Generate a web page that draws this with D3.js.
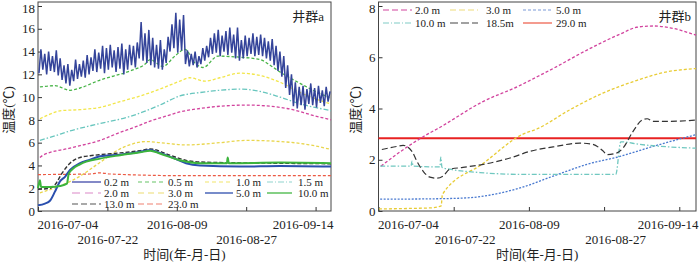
<!DOCTYPE html>
<html lang="zh">
<head>
<meta charset="utf-8">
<title>温度</title>
<script src="https://cdn.jsdelivr.net/npm/d3@7"></script>
<style>
body{margin:0;background:#fff}
svg{display:block}
text{font-family:"Liberation Serif","Times New Roman","Noto Sans CJK SC",serif;fill:#222}
</style>
</head>
<body>
<script>
// dates are given as day offsets from 2016-07-04
const tickDates = ["2016-07-04","2016-07-22","2016-08-09","2016-08-27","2016-09-14"]

// 井群a : 0.2 m daily high / low
const a02hi = [14.2,13.8,14.0,13.6,14.1,13.4, 12.8,12.9,12.4,13.3,12.9, 13.2,13.7,13.5,14.2,
  13.9,14.5,14.3,14.6,14.1,14.4, 14.7,14.2,14.6,14.5,14.8, 16.6,15.6,15.9,15.2, 14.6,15.0,14.2,15.3,
  16.4,17.4,16.8,17.2, 14.1,13.8,14.0,13.6,14.3,14.5,15.2, 15.6,15.9,15.4,15.8,16.1,15.5,16.1,
  15.0,15.4,15.2, 15.6,15.3,15.5, 15.2,14.9,15.1, 14.5,14.0,13.6, 12.8,12.0,
  11.3,10.9,11.0,10.7,11.2, 10.8,11.0,10.6,10.9,10.5]
const a02lo = [12.1,12.4,12.0,12.3,12.2,11.9, 11.5,11.2,11.0,11.4,11.6, 11.8,11.7,12.0,12.3,
  12.2,12.5,12.1,12.4,12.6,12.2, 12.5,12.0,12.4,12.8,12.6, 13.4,13.2,13.0,12.8, 12.6,12.5,12.4,13.0,
  14.0,14.3,13.9,14.1, 12.9,12.7,12.8,12.6,12.9,13.2,13.5, 13.8,13.9,13.6,14.0,13.7,13.9,13.4,
  13.2,13.4,13.6, 13.8,13.6,13.7, 13.6,13.4,13.2, 12.8,12.3,11.8, 10.8,10.2,
  9.2,9.0,9.3,8.9,9.4, 9.3,9.1,9.5,9.2,9.6]
const a05 = [[0.5,10.9],[4.4,11.0],[8.3,10.6],[10.9,10.8],[16.1,11.5],[23.9,12.3],[27.8,12.9],[29.1,13.3],
  [32.4,12.7],[35.5,13.6],[38.1,14.2],[40.7,13.0],[42.8,12.6],[46.7,13.6],[52.4,13.5],[57.6,13.3],
  [60.2,12.8],[62.8,12.2],[68.0,11.2],[73.2,10.3],[76,9.9]]
const a10 = [[0.5,8.1],[3.1,8.5],[5.7,8.8],[10.9,8.9],[16.1,9.1],[21.3,9.6],[26.5,10.1],[31.6,10.7],
  [36.8,11.4],[39.4,11.7],[43.3,11.4],[47.2,11.7],[52.4,12.1],[57.6,11.9],[62.8,11.3],[68.0,10.4],[73.2,9.7],[76,9.4]]
const a15 = [[0.5,6.2],[4.4,6.6],[8.0,7.0],[15.0,7.6],[23.9,8.3],[31.6,9.3],[36.8,10.1],[42.0,10.4],
  [47.2,10.6],[52.4,10.7],[57.6,10.5],[62.8,10.0],[68.0,9.4],[73.2,9.0],[76,8.8]]
const a20 = [[0.5,4.7],[1.3,4.9],[8.0,5.5],[16.9,6.3],[20.5,6.8],[25.4,7.4],[29.1,7.9],[32.9,8.3],
  [36.8,8.7],[42.0,9.0],[54.2,9.3],[64.6,9.0],[71.3,8.4],[76,8.0]]
const a30 = [[0.5,1.6],[5.7,2.2],[10.6,3.0],[15.8,4.2],[21.0,5.4],[24.6,5.9],[27.8,6.1],[31.6,6.0],
  [38.4,5.8],[47.2,6.0],[54.2,6.2],[62.8,6.1],[70.6,5.8],[76,5.4]]
const a50 = [[0,0.5],[1.8,0.65],[3.1,0.9],[4.4,1.7],[5.7,2.6],[7.0,3.0],[8.3,3.6],[10.9,4.2],[13.5,4.5],
  [16.1,4.8],[21.3,4.95],[26.5,5.2],[29.1,5.35],[31.6,5.1],[35.5,4.6],[38.4,4.2],[42.0,4.0],[52.4,3.9],[62.8,3.95],[76,3.9]]
const a100 = [[0,2.0],[0.5,2.7],[0.8,2.1],[3.1,2.1],[5.7,2.2],[7.5,2.4],[8.0,3.3],[10.9,4.1],[16.1,4.6],
  [21.3,4.9],[26.5,5.15],[29.1,5.3],[31.6,5.05],[36.8,4.45],[42.0,4.2],[49.0,4.2],[49.2,4.7],[49.5,4.2],[62.8,4.25],[76,4.2]]
const a130 = [[0,1.9],[3.1,2.0],[4.4,2.3],[6.2,3.3],[8.3,4.2],[10.9,4.7],[13.5,4.85],[16.1,4.95],[21.3,5.1],
  [26.5,5.3],[29.1,5.45],[34.2,4.9],[38.4,4.45],[42.0,4.3],[60,4.2],[76,4.15]]
const a230 = [[0,3.2],[13.5,3.25],[16.1,3.35],[18.7,3.25],[38.4,3.1],[76,3.1]]

// 井群b
const b20 = [[0.6,1.75],[5.1,2.3],[12.3,3.05],[14.0,3.2],[25.0,4.27],[33.9,4.9],[36.3,5.1],[41.8,5.56],
  [49.9,6.28],[57.8,6.9],[62.1,7.18],[65.7,7.22],[69.8,7.15],[76,6.86]]
const b30 = [[0.1,0.08],[7.5,0.1],[12.3,0.12],[15.0,0.2],[15.3,0.65],[25.0,1.85],[34.6,3.0],[37.9,3.2],
  [45.8,3.95],[53.7,4.6],[61.9,5.1],[68.1,5.4],[76,5.56]]
const b50 = [[0.4,0.46],[14.7,0.48],[21.9,0.52],[29.1,0.7],[33.9,0.9],[41.8,1.36],[49.9,1.82],[57.8,2.13],[65.7,2.52],[76,2.98]]
const b100 = [[0.4,1.75],[7.8,1.75],[8.0,1.95],[8.3,1.75],[14.7,1.72],[14.9,2.1],[15.2,1.7],[17.1,1.63],
  [24.3,1.5],[29.1,1.45],[33.9,1.43],[56.8,1.43],[58.0,2.7],[62.5,2.6],[76,2.45]]
const b185 = [[0.8,2.4],[4.4,2.52],[5.9,2.56],[8.0,2.33],[9.2,1.94],[10.7,1.55],[12.3,1.32],[14.0,1.28],
  [15.4,1.36],[17.1,1.63],[20.2,1.7],[25.0,1.82],[31.5,2.07],[36.3,2.33],[41.8,2.5],[48.2,2.65],[51.3,2.6],
  [53.7,2.35],[54.7,2.2],[57.1,2.27],[58.5,2.45],[60.9,3.1],[63.1,3.55],[64.3,3.6],[65.7,3.5],[69.8,3.5],[76,3.55]]
const b290 = [[0,2.84],[76,2.84]]

const t0 = new Date(2016,6,4)
const day = d => new Date(t0.getTime() + d*864e5)
const parse = d3.timeParse("%Y-%m-%d")
const fmt = d3.timeFormat("%Y-%m-%d")

// 0.2 m: low in the early morning, high in the afternoon
let a02 = []
a02hi.forEach((h,i)=>{ a02.push([i+0.25, a02lo[i]]); a02.push([i+0.75, h]) })

const svg = d3.select("body").append("svg").attr("width",700).attr("height",263)

function panel(x0, x1, yMax, lowShift, name, nameX, titleX){
    const g = svg.append("g")
    const x = d3.scaleTime().domain([t0, day(76)]).range([x0, x1])
    const y = d3.scaleLinear().domain([0, yMax]).range([211, 6])

    const xa = g.append("g").attr("transform","translate(0,211)")
        .call(d3.axisBottom(x).tickValues(tickDates.map(parse)).tickFormat(fmt)
              .tickSizeInner(-4).tickSizeOuter(0).tickPadding(9))
    xa.select(".domain").remove()
    xa.selectAll("text").attr("font-size","13px").attr("font-family",null)
        .attr("y",(d,i)=> i%2 ? 24 : 9)
        .attr("dx",(d,i)=> i%2 ? lowShift : 0)
        .attr("text-anchor",(d,i)=> i==0 ? "start" : (i==4 ? "end" : "middle"))
        .attr("x",(d,i)=> i==0 ? x0-1-x(d) : (i==4 ? x1+2-x(d) : 0))

    const ya = g.append("g").attr("transform",`translate(${x0},0)`)
        .call(d3.axisLeft(y).tickValues(d3.range(0, yMax+1, 2))
              .tickSizeInner(-4).tickSizeOuter(0).tickPadding(3))
    ya.select(".domain").remove()
    ya.selectAll("text").attr("font-size","13px").attr("font-family",null)
        .attr("dy",d=> d==yMax ? "0.5em" : "0.32em")

    g.selectAll(".tick line").attr("stroke","#333")

    g.append("rect").attr("x",x0).attr("y",2).attr("width",x1-x0).attr("height",209)
        .attr("fill","none").attr("stroke","#444").attr("stroke-width",1)

    g.append("text").attr("x",(x0+x1)/2).attr("y",259).attr("text-anchor","middle")
        .attr("font-size","13px").text("时间(年-月-日)")
    g.append("text").attr("transform",`translate(${titleX},110) rotate(-90)`)
        .attr("text-anchor","middle").attr("font-size","13px").text("温度(℃)")
    g.append("text").attr("x",nameX).attr("y",21).attr("text-anchor","end")
        .attr("font-size","13px").text(name)
    return {g, x, y}
}

function series(p, data, color, width, dash, curve){
    const line = d3.line().x(d=>p.x(day(d[0]))).y(d=>p.y(d[1])).curve(curve || d3.curveMonotoneX)
    p.g.append("path").datum(data).attr("d",line)
        .attr("fill","none").attr("stroke",color).attr("stroke-width",width)
        .attr("stroke-dasharray",dash)
}

function legend(g, items, cols, rowY){
    items.forEach((it,i)=>{
        const c = cols[i % cols.length], yy = rowY[Math.floor(i / cols.length)]
        g.append("line").attr("x1",c[0]).attr("x2",c[1]).attr("y1",yy).attr("y2",yy)
            .attr("stroke",it.color).attr("stroke-width",it.w).attr("stroke-dasharray",it.dash)
        g.append("text").attr("x",c[2]).attr("y",yy+4).attr("font-size","11px").text(it.label)
    })
}

// left panel
const pa = panel(38, 331, 18, 0, "井群a", 324, 13)
series(pa, a230, "#ec5a44", 1.2, "3,2")
series(pa, a20, "#d2449e", 1.3, "3,2")
series(pa, a15, "#68c6be", 1.3, "5,2,1.5,2")
series(pa, a10, "#f2e64a", 1.3, "3,2")
series(pa, a30, "#e9d64e", 1.3, "3,2")
series(pa, a05, "#48b448", 1.3, "3,2")
series(pa, a02, "#34449a", 1.5, null, d3.curveLinear)
series(pa, a130, "#333", 1.4, "4,2")
series(pa, a50, "#2a4fae", 2)
series(pa, a100, "#3cb43c", 2)

legend(pa.g, [
    {label:"0.2 m", color:"#5a62b4", w:1.5},
    {label:"0.5 m", color:"#66c466", w:1.2, dash:"4,3"},
    {label:"1.0 m", color:"#f2e66a", w:1.2, dash:"4,3"},
    {label:"1.5 m", color:"#90d4ce", w:1.2, dash:"6,2,1,2"},
    {label:"2.0 m", color:"#dc88c8", w:1.2, dash:"8,5"},
    {label:"3.0 m", color:"#ecdc70", w:1.2, dash:"6,4"},
    {label:"5.0 m", color:"#4a66b8", w:1.5},
    {label:"10.0 m", color:"#5cc05c", w:1.5},
    {label:"13.0 m", color:"#555", w:1.2, dash:"6,3"},
    {label:"23.0 m", color:"#f08070", w:1.2, dash:"6,3"}
], [[72,101,104],[138,164,168],[205,233,236],[267,292,298]], [182,193,204])

// right panel
const pb = panel(378.5, 696, 8, 11, "井群b", 691, 360)
series(pb, b290, "#e82222", 2)
series(pb, b20, "#d2449e", 1.3, "3,2")
series(pb, b30, "#e8cc36", 1.3, "3,2")
series(pb, b50, "#4a7ad0", 1.3, "2,1.5")
series(pb, b100, "#70c8c0", 1.3, "5,2,1.5,2")
series(pb, b185, "#333", 1.2, "6,3")

legend(pb.g, [
    {label:"2.0 m", color:"#d2449e", w:1.2, dash:"6,3"},
    {label:"3.0 m", color:"#eedc7a", w:1.2, dash:"6,3"},
    {label:"5.0 m", color:"#7a9ad8", w:1.2, dash:"3,2"},
    {label:"10.0 m", color:"#80ccc6", w:1.2, dash:"6,2,1,2"},
    {label:"18.5m", color:"#444", w:1.2, dash:"8,3"},
    {label:"29.0 m", color:"#f07a6a", w:1.5}
], [[383,412,415],[450,478,486],[523,552,556]], [10,23])
</script>
</body>
</html>
